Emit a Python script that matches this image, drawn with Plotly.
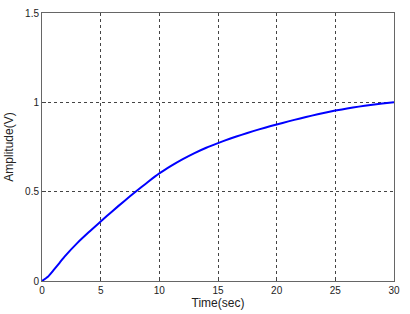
import plotly.graph_objects as go

time_s = [0, 0.5, 1, 1.5, 2, 3, 4, 5, 6, 7, 8, 9, 10, 11, 12, 13, 14, 15, 16, 17, 18, 19, 20,
          21, 22, 23, 24, 25, 26, 27, 28, 29, 30]
amplitude = [0, 0.024, 0.062, 0.102, 0.142, 0.212, 0.274, 0.333, 0.391, 0.447, 0.501, 0.553, 0.602,
             0.644, 0.682, 0.716, 0.746, 0.772, 0.796, 0.818, 0.839, 0.858, 0.876,
             0.8935, 0.91, 0.9255, 0.9405, 0.954, 0.966, 0.976, 0.985, 0.993, 1.0]

x_ticks = [0, 5, 10, 15, 20, 25, 30]
y_ticks = [0, 0.5, 1, 1.5]
y_tick_text = ["0", "0.5", "1", "1.5"]

fig = go.Figure()
fig.add_trace(go.Scatter(x=time_s, y=amplitude, mode="lines",
                         line=dict(color="#0000ff", width=2, shape="spline", smoothing=0.6)))

font = dict(family="Liberation Sans, Arial, sans-serif", size=10, color="#222")
fig.update_layout(
    width=410, height=314,
    margin=dict(l=42, r=16, t=13, b=33),
    paper_bgcolor="white", plot_bgcolor="white",
    showlegend=False, font=font,
)
fig.update_xaxes(range=[0, 30], tickvals=x_ticks, ticks="inside", ticklen=4, automargin=False,
                 showgrid=True, gridcolor="#444", griddash="dot", gridwidth=1,
                 showline=True, linecolor="#666", linewidth=1, mirror=True,
                 zeroline=False, title=dict(text="Time(sec)", standoff=0))
fig.update_yaxes(range=[0, 1.5], tickvals=y_ticks, ticktext=y_tick_text, ticks="inside", ticklen=4,
                 automargin=False,
                 showgrid=True, gridcolor="#444", griddash="dot", gridwidth=1,
                 showline=True, linecolor="#666", linewidth=1, mirror=True,
                 zeroline=False, title=dict(text="Amplitude(V)", standoff=8))
fig.write_html("out.html", config={"displayModeBar": False},
               post_script="document.body.style.margin='0px';")
